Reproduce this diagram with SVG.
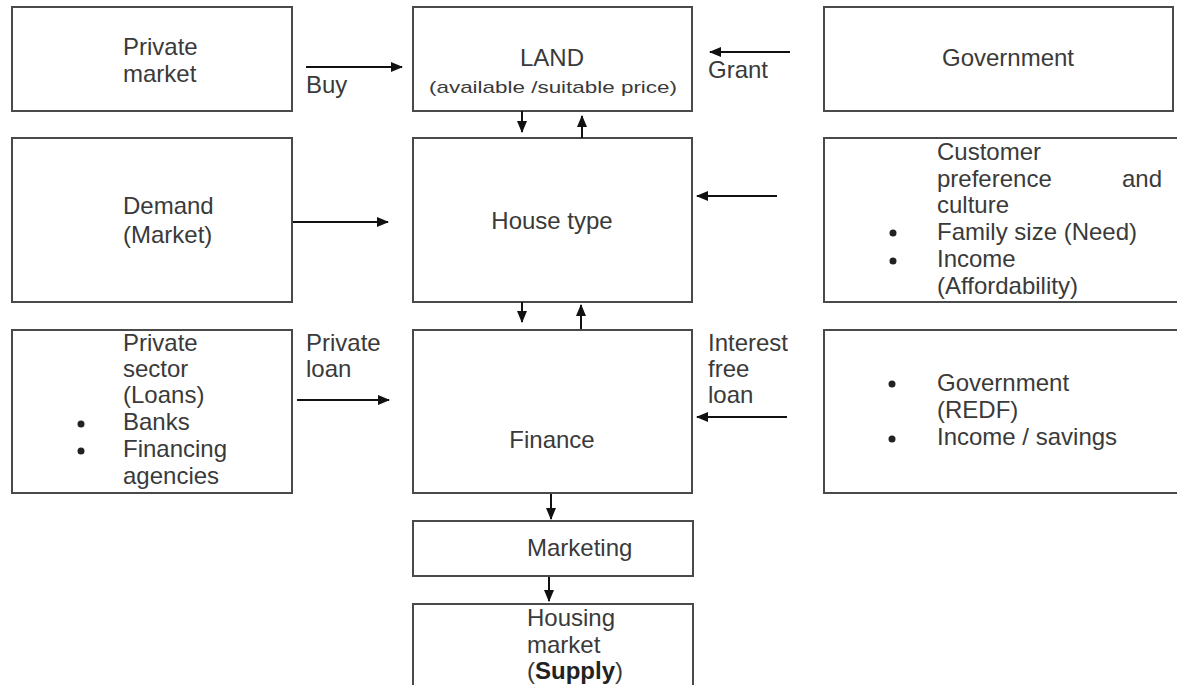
<svg xmlns="http://www.w3.org/2000/svg" width="1177" height="685" viewBox="0 0 1177 685">
<style>
.box{fill:#fff;stroke:#4a4a4a;stroke-width:2}
.t{font-family:"Liberation Sans",Arial,sans-serif;font-size:24px;fill:#3a3a3a}
.s{font-family:"Liberation Sans",Arial,sans-serif;font-size:17px;fill:#3a3a3a}
.c{stroke:#111;stroke-width:2;fill:none;marker-end:url(#ah)}
.b{fill:#222}
</style>
<defs>
<marker id="ah" markerWidth="12" markerHeight="10" refX="11" refY="5" orient="auto" markerUnits="userSpaceOnUse">
<path d="M0,0 L12,5 L0,10 Z" fill="#111"/>
</marker>
</defs>
<rect width="1177" height="685" fill="#fff"/>

<g id="private-market">
<rect class="box" x="12" y="7" width="280" height="104"/>
<text class="t" x="123" y="55">Private</text>
<text class="t" x="123" y="82">market</text>
</g>
<g id="land">
<rect class="box" x="413" y="7" width="279" height="104"/>
<text class="t" x="552" y="66" text-anchor="middle">LAND</text>
<text class="s" x="553" y="93" text-anchor="middle" textLength="248" lengthAdjust="spacingAndGlyphs">(available /suitable price)</text>
</g>
<g id="government">
<rect class="box" x="824" y="7" width="349" height="104"/>
<text class="t" x="1008" y="66" text-anchor="middle">Government</text>
</g>
<g id="demand">
<rect class="box" x="12" y="138" width="280" height="164"/>
<text class="t" x="123" y="214">Demand</text>
<text class="t" x="123" y="243">(Market)</text>
</g>
<g id="house-type">
<rect class="box" x="413" y="138" width="279" height="164"/>
<text class="t" x="552" y="229" text-anchor="middle">House type</text>
</g>
<g id="customer">
<rect class="box" x="824" y="138" width="360" height="164"/>
<text class="t" x="937" y="160">Customer</text>
<text class="t" x="937" y="187">preference</text>
<text class="t" x="1122" y="187">and</text>
<text class="t" x="937" y="213">culture</text>
<circle class="b" cx="893" cy="233" r="3.5"/>
<text class="t" x="937" y="240">Family size (Need)</text>
<circle class="b" cx="893" cy="261" r="3.5"/>
<text class="t" x="937" y="267">Income</text>
<text class="t" x="937" y="294">(Affordability)</text>
</g>
<g id="private-sector">
<rect class="box" x="12" y="330" width="280" height="163"/>
<text class="t" x="123" y="351">Private</text>
<text class="t" x="123" y="377">sector</text>
<text class="t" x="123" y="403">(Loans)</text>
<circle class="b" cx="81" cy="424" r="3.5"/>
<text class="t" x="123" y="430">Banks</text>
<circle class="b" cx="81" cy="451" r="3.5"/>
<text class="t" x="123" y="457">Financing</text>
<text class="t" x="123" y="484">agencies</text>
</g>
<g id="finance">
<rect class="box" x="413" y="330" width="279" height="163"/>
<text class="t" x="552" y="448" text-anchor="middle">Finance</text>
</g>
<g id="gov-income">
<rect class="box" x="824" y="330" width="360" height="163"/>
<circle class="b" cx="892" cy="384" r="3.5"/>
<text class="t" x="937" y="391">Government</text>
<text class="t" x="937" y="418">(REDF)</text>
<circle class="b" cx="892" cy="439" r="3.5"/>
<text class="t" x="937" y="445">Income / savings</text>
</g>
<g id="marketing">
<rect class="box" x="413" y="521" width="280" height="55"/>
<text class="t" x="527" y="556">Marketing</text>
</g>
<g id="housing-market">
<rect class="box" x="413" y="604" width="280" height="100"/>
<text class="t" x="527" y="626">Housing</text>
<text class="t" x="527" y="653">market</text>
<text class="t" x="527" y="679">(<tspan font-weight="bold" fill="#222">Supply</tspan>)</text>
</g>

<g id="connectors">
<line class="c" x1="306" y1="67" x2="402" y2="67"/>
<text class="t" x="306" y="93">Buy</text>
<line class="c" x1="790" y1="52" x2="710" y2="52"/>
<text class="t" x="708" y="78">Grant</text>
<line class="c" x1="522" y1="111" x2="522" y2="132"/>
<line class="c" x1="582" y1="138" x2="582" y2="116"/>
<line class="c" x1="293" y1="222" x2="388" y2="222"/>
<line class="c" x1="777" y1="196" x2="697" y2="196"/>
<line class="c" x1="522" y1="302" x2="522" y2="322"/>
<line class="c" x1="581" y1="329" x2="581" y2="305"/>
<line class="c" x1="297" y1="400" x2="389" y2="400"/>
<text class="t" x="306" y="351">Private</text>
<text class="t" x="306" y="377">loan</text>
<line class="c" x1="787" y1="417" x2="697" y2="417"/>
<text class="t" x="708" y="351">Interest</text>
<text class="t" x="708" y="377">free</text>
<text class="t" x="708" y="403">loan</text>
<line class="c" x1="551" y1="494" x2="551" y2="519"/>
<line class="c" x1="549" y1="577" x2="549" y2="601"/>
</g>
</svg>
